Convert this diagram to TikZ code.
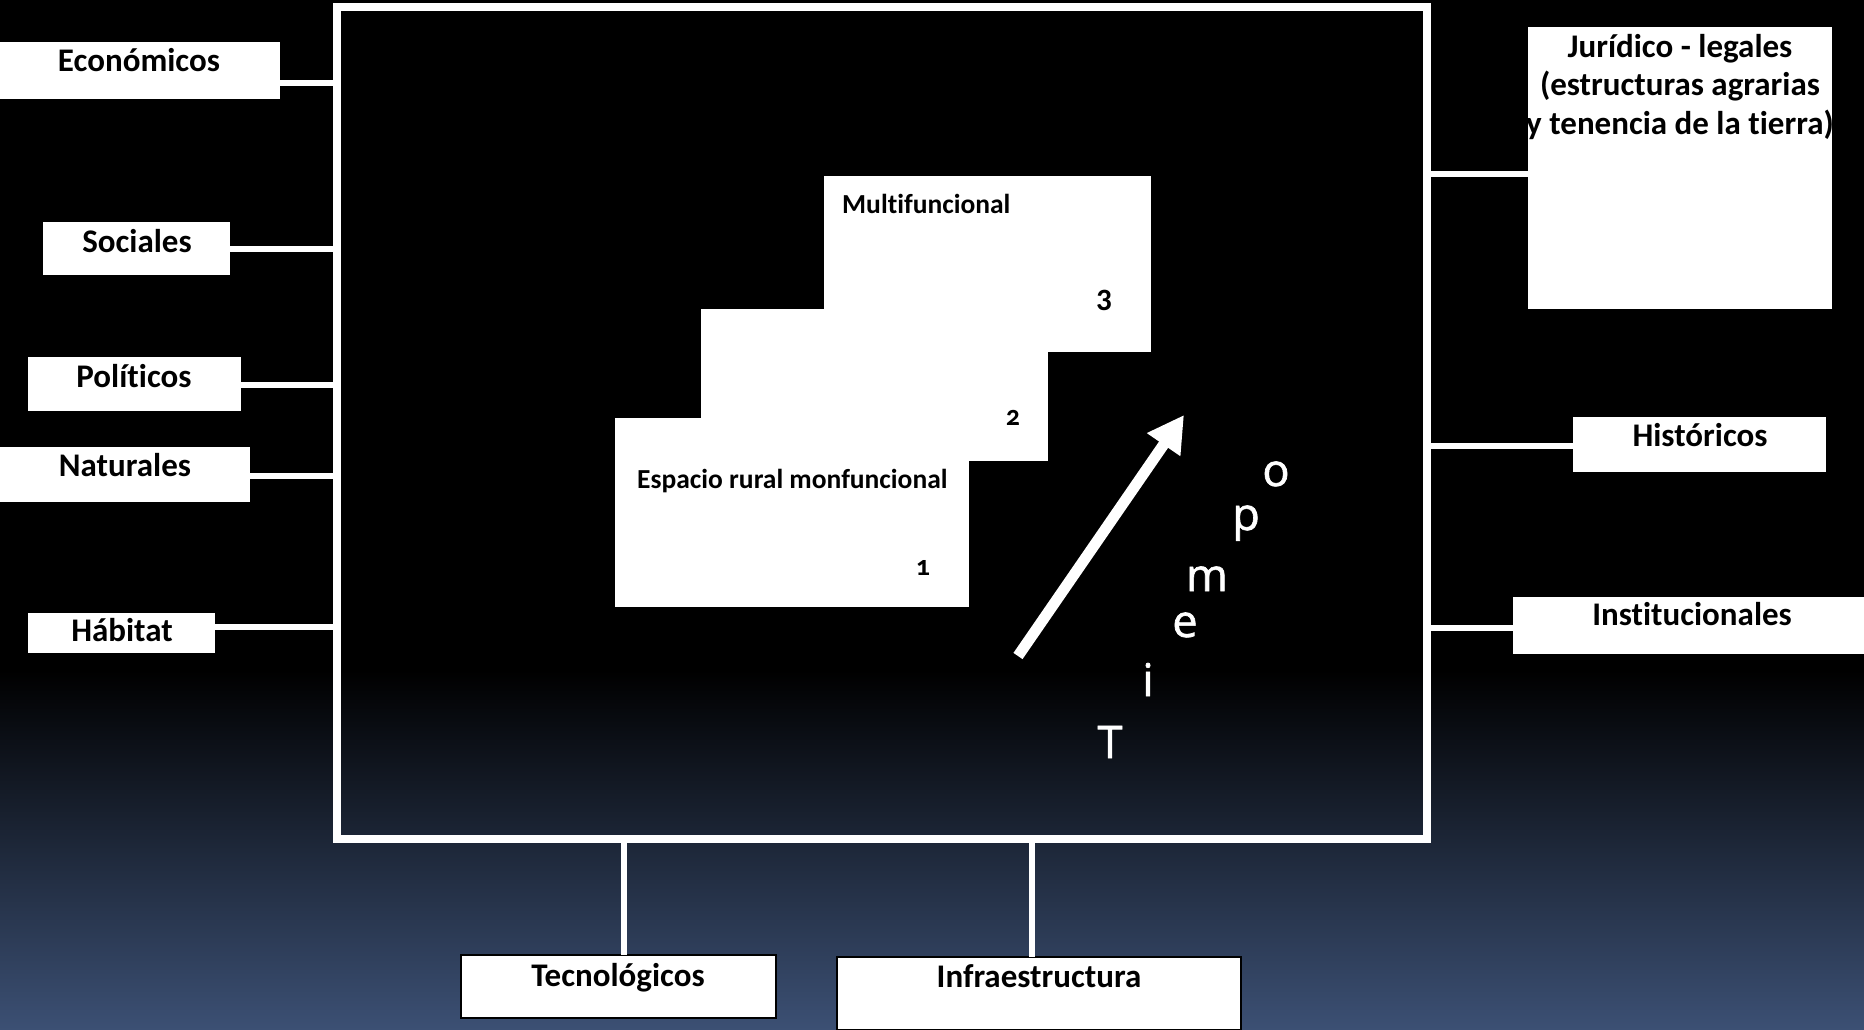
\documentclass[tikz,border=0pt]{standalone}
\usepackage{fontspec}
\setmainfont{Carlito}[RawFeature=-liga]
\newfontfamily\tfont{Open Sans}
\usetikzlibrary{arrows.meta}
\definecolor{bgblue}{RGB}{60,80,116}
\begin{document}
\begin{tikzpicture}[x=1pt,y=-1pt,
  lbox/.style={fill=white, inner sep=0pt, outer sep=0pt, anchor=north west},
  ltxt/.style={anchor=base, inner sep=0pt, font=\fontsize{33}{38}\selectfont\bfseries, text=black},
  stxt/.style={anchor=base west, inner sep=0pt, font=\fontsize{27.5}{30}\selectfont\bfseries, text=black},
  ntxt/.style={anchor=base, inner sep=0pt, font=\fontsize{28}{30}\selectfont\bfseries, text=black},
  ttxt/.style={anchor=base, inner sep=0pt, font=\fontsize{45}{50}\selectfont\tfont\addfontfeature{FakeBold=1.4}, text=white},
  conn/.style={draw=white, line width=5.5pt},
  frm/.style={draw=white, line width=8pt, inner sep=0pt, outer sep=0pt, anchor=north west}]
\useasboundingbox (0,0) rectangle (1864,1030);
% background
\fill[black] (0,0) rectangle (1864,1030);
\shade[top color=black, bottom color=bgblue] (0,670) rectangle (1864,1030);
% main frame
\node[frm, minimum width=1090pt, minimum height=832pt] (F) at (337,7) {};
% left boxes
\node[lbox, minimum width=280pt, minimum height=57pt] (econ) at (0,42) {};
\node[lbox, minimum width=187pt, minimum height=53pt] (soc) at (43,222) {};
\node[lbox, minimum width=213pt, minimum height=54pt] (pol) at (28,357) {};
\node[lbox, minimum width=250pt, minimum height=55pt] (nat) at (0,447) {};
\node[lbox, minimum width=187pt, minimum height=40pt] (hab) at (28,613) {};
% right boxes
\node[lbox, minimum width=304pt, minimum height=282pt] (jur) at (1528,27) {};
\node[lbox, minimum width=253pt, minimum height=55pt] (hist) at (1573,417) {};
\node[lbox, minimum width=351pt, minimum height=57pt] (inst) at (1513,597) {};
% bottom boxes
\node[lbox, draw=black, line width=1.5pt, minimum width=315pt, minimum height=63pt] (tec) at (461,955) {};
\node[lbox, draw=black, line width=1.5pt, minimum width=404pt, minimum height=73pt] (infra) at (837,957) {};
% connectors
\draw[conn] (econ.east |- 0,83) -- (F.west |- 0,83);
\draw[conn] (soc.east |- 0,249) -- (F.west |- 0,249);
\draw[conn] (pol.east |- 0,385) -- (F.west |- 0,385);
\draw[conn] (nat.east |- 0,476) -- (F.west |- 0,476);
\draw[conn] (hab.east |- 0,627) -- (F.west |- 0,627);
\draw[conn] (F.east |- 0,174) -- (jur.west |- 0,174);
\draw[conn] (F.east |- 0,446) -- (hist.west |- 0,446);
\draw[conn] (F.east |- 0,628) -- (inst.west |- 0,628);
\draw[conn] (F.south -| 624,0) -- (tec.north -| 624,0);
\draw[conn] (F.south -| 1032,0) -- (infra.north -| 1032,0);
% labels
\node[ltxt] (econ-t) at (139,72) {Económicos};
\node[ltxt] (soc-t) at (137,252) {Sociales};
\node[ltxt] (pol-t) at (134,387) {Políticos};
\node[ltxt] (nat-t) at (125,476) {Naturales};
\node[ltxt] (hab-t) at (122,641) {Hábitat};
\node[ltxt] (jur-t1) at (1680,58) {Jurídico - legales};
\node[ltxt] (jur-t2) at (1680,96) {(estructuras agrarias};
\node[ltxt] (jur-t3) at (1680,135) {y tenencia de la tierra)};
\node[ltxt] (hist-t) at (1700,446) {Históricos};
\node[ltxt] (inst-t) at (1692,625) {Institucionales};
\node[ltxt] (tec-t) at (618,986) {Tecnológicos};
\node[ltxt] (infra-t) at (1039,987) {Infraestructura};
% staircase
\node[lbox, minimum width=327pt, minimum height=176pt] (s3) at (824,176) {};
\node[lbox, minimum width=347pt, minimum height=152pt] (s2) at (701,309) {};
\node[lbox, minimum width=354pt, minimum height=189pt] (s1) at (615,418) {};
\node[stxt] (s3-t) at (842,213) {Multifuncional};
\node[stxt] (s1-t) at (637,488) {Espacio rural monfuncional};
\node[anchor=base, inner sep=0pt, font=\fontsize{31}{34}\selectfont\bfseries, text=black] (n3) at (1104,310) {3};
\node[ntxt] (n2) at (1013,425) {\addfontfeature{Numbers=OldStyle}2};
\node[ntxt] (n1) at (923,575) {\addfontfeature{Numbers=OldStyle}1};
% arrow
\coordinate (a0) at (1018,656);
\coordinate (a1) at (1184,415);
\draw[white, line width=11pt, -{Triangle[length=36pt,width=38pt]}] (a0) -- (a1);
% Tiempo
\node[ttxt] (t1) at (1110,758) {T};
\node[ttxt] (t2) at (1148,696) {i};
\node[ttxt] (t3) at (1185,637) {e};
\node[ttxt] (t4) at (1207,591) {m};
\node[ttxt] (t5) at (1246,530) {p};
\node[ttxt] (t6) at (1276,486) {o};
\end{tikzpicture}
\end{document}
